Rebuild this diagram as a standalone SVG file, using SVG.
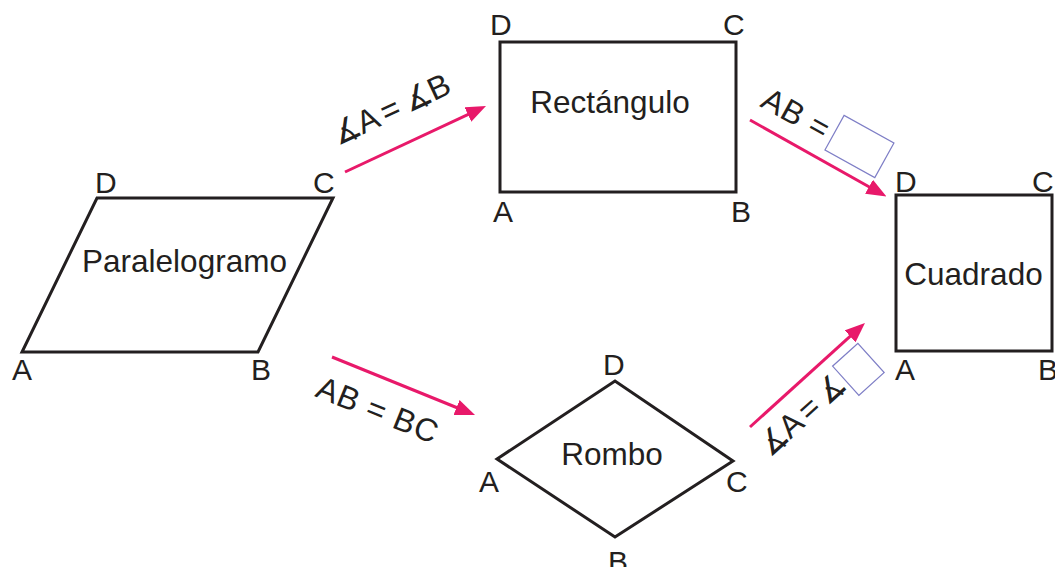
<svg xmlns="http://www.w3.org/2000/svg" width="1055" height="567" viewBox="0 0 1055 567">
<style>
  .shape { fill: none; stroke: #231F20; stroke-width: 3; stroke-linejoin: miter; }
  .name { font-family: "Liberation Sans", Arial, sans-serif; font-size: 31.5px; fill: #231F20; text-anchor: middle; }
  .vtx { font-family: "Liberation Sans", Arial, sans-serif; font-size: 30px; fill: #231F20; }
  .cond { font-family: "Liberation Sans", "DejaVu Sans", sans-serif; font-size: 32px; fill: #231F20; }
  .arrow { fill: none; stroke: #E8196A; stroke-width: 3; marker-end: url(#head); }
  .blank { fill: none; stroke: #7E7EC6; stroke-width: 1.2; }
</style>
<defs>
  <marker id="head" markerUnits="userSpaceOnUse" markerWidth="20" markerHeight="16" refX="4" refY="8" orient="auto">
    <path d="M0,0 L20,8 L0,16 z" fill="#E8196A"/>
  </marker>
</defs>
<rect width="1055" height="567" fill="#ffffff"/>

<g id="paralelogramo">
  <polygon class="shape" points="22,352 258,352 333,198 97,198"/>
  <text class="name" x="184.5" y="272">Paralelogramo</text>
  <text class="vtx" x="95" y="193">D</text>
  <text class="vtx" x="313" y="193">C</text>
  <text class="vtx" x="12" y="380">A</text>
  <text class="vtx" x="251" y="380">B</text>
</g>

<g id="rectangulo">
  <rect class="shape" x="500" y="42" width="236" height="150"/>
  <text class="name" x="610" y="113">Rectángulo</text>
  <text class="vtx" x="490" y="35">D</text>
  <text class="vtx" x="723" y="35">C</text>
  <text class="vtx" x="493" y="222">A</text>
  <text class="vtx" x="731" y="222">B</text>
</g>

<g id="cuadrado">
  <rect class="shape" x="896" y="195" width="156" height="156"/>
  <text class="name" x="973.5" y="285">Cuadrado</text>
  <text class="vtx" x="895" y="192">D</text>
  <text class="vtx" x="1032" y="192">C</text>
  <text class="vtx" x="895" y="380">A</text>
  <text class="vtx" x="1038" y="380">B</text>
</g>

<g id="rombo">
  <polygon class="shape" points="497,459 615,381 733,461 615,537"/>
  <text class="name" x="612" y="465">Rombo</text>
  <text class="vtx" x="603" y="375">D</text>
  <text class="vtx" x="479" y="492">A</text>
  <text class="vtx" x="726" y="492">C</text>
  <text class="vtx" x="608" y="572">B</text>
</g>

<g id="connectors">
  <line class="arrow" x1="345" y1="172" x2="471.5" y2="112.8"/>
  <line class="arrow" x1="750" y1="120" x2="872.5" y2="188.7"/>
  <line class="arrow" x1="332" y1="357" x2="460.2" y2="409"/>
  <line class="arrow" x1="750" y1="427" x2="853.1" y2="333.7"/>

  <g transform="translate(338,146) rotate(-25)">
    <text class="cond" x="0" y="0" textLength="127" lengthAdjust="spacing">∡A = ∡B</text>
  </g>
  <g transform="translate(759,106) rotate(29)">
    <text class="cond" x="0" y="0" textLength="72" lengthAdjust="spacing">AB =</text>
    <rect class="blank" x="79" y="-33" width="57" height="39.5"/>
  </g>
  <g transform="translate(314,396) rotate(22)">
    <text class="cond" x="0" y="0" textLength="128" lengthAdjust="spacing">AB = BC</text>
  </g>
  <g transform="translate(770,458) rotate(-42)">
    <text class="cond" x="0" y="0" textLength="106" lengthAdjust="spacing">∡A = ∡</text>
    <rect class="blank" x="108" y="-26.4" width="34" height="39.3"/>
  </g>
</g>
</svg>
